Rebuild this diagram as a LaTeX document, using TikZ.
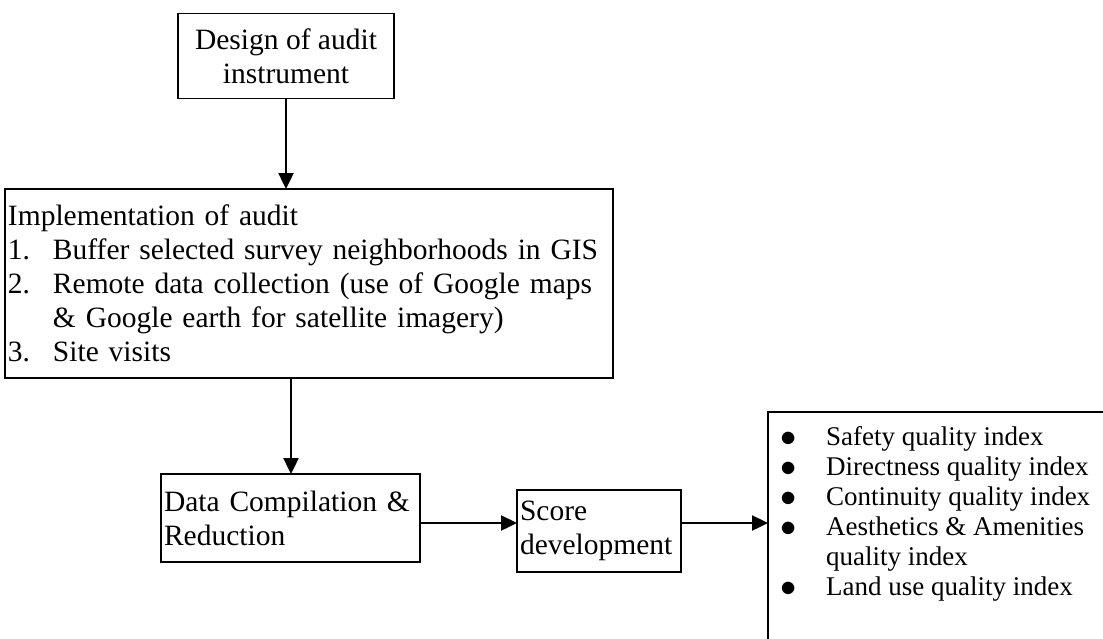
\documentclass[tikz,border=0pt]{standalone}
\usepackage{fontspec}
\setmainfont{Liberation Serif}
\usetikzlibrary{arrows.meta}
\newcommand{\blt}{\makebox[46pt][l]{\raisebox{-1pt}{\scalebox{1.3}{$\bullet$}}}}
\begin{document}
\begin{tikzpicture}[x=1pt,y=-1pt,
  box/.style={draw, line width=1.8pt, rectangle, inner sep=0pt, outer sep=0pt},
  flow/.style={line width=2.4pt, -{Triangle[length=16pt,width=15pt]}},
  big/.style={font=\fontsize{29.5}{34}\selectfont}
]
\clip (0,0) rectangle (1103,638);
\fill[white] (0,0) rectangle (1103,638);

% step boxes
\node[box, big, align=center, minimum width=216, minimum height=85] (design) at (286,56)
  {Design of audit\\instrument};

\node[box, big, anchor=north west, minimum width=606, minimum height=189, text width=602, align=left, inner xsep=3pt] (impl) at (5,189)
  {Implementation of audit\\
   \makebox[45pt][l]{1.}Buffer selected survey neighborhoods in GIS\\
   \makebox[45pt][l]{2.}Remote data collection (use of Google maps\\
   \hspace*{45pt}\& Google earth for satellite imagery)\\
   \makebox[45pt][l]{3.}Site visits};

\node[box, big, anchor=north west, minimum width=257, minimum height=88, text width=253, align=left, inner xsep=3pt] (data) at (161,474)
  {Data Compilation \&\\Reduction};

\node[box, big, anchor=north west, minimum width=162, minimum height=82, text width=158, align=left, inner xsep=3pt] (score) at (517,490)
  {Score\\development};

% result box, running past the lower and right edges
\node[box, anchor=north west, minimum width=420, minimum height=280, inner sep=0pt] (res) at (768,412) {};
\node[anchor=north west, inner sep=0pt, font=\fontsize{27}{30}\selectfont, align=left] (idx) at (780,426)
  {\blt Safety quality index\\
   \blt Directness quality index\\
   \blt Continuity quality index\\
   \blt Aesthetics \& Amenities\\
   \hspace*{46pt}quality index\\
   \blt Land use quality index};

% connectors
\draw[flow] (design.south) -- (impl.north -| design.south);
\draw[flow] ([xshift=-18pt]impl.south) -- ([xshift=-18pt]impl.south |- data.north);
\draw[flow] ([yshift=-5pt]data.east) -- ([yshift=-5pt]data.east -| score.west);
\draw[flow] ([yshift=8pt]score.east) -- ([yshift=8pt]score.east -| res.west);
\end{tikzpicture}
\end{document}
